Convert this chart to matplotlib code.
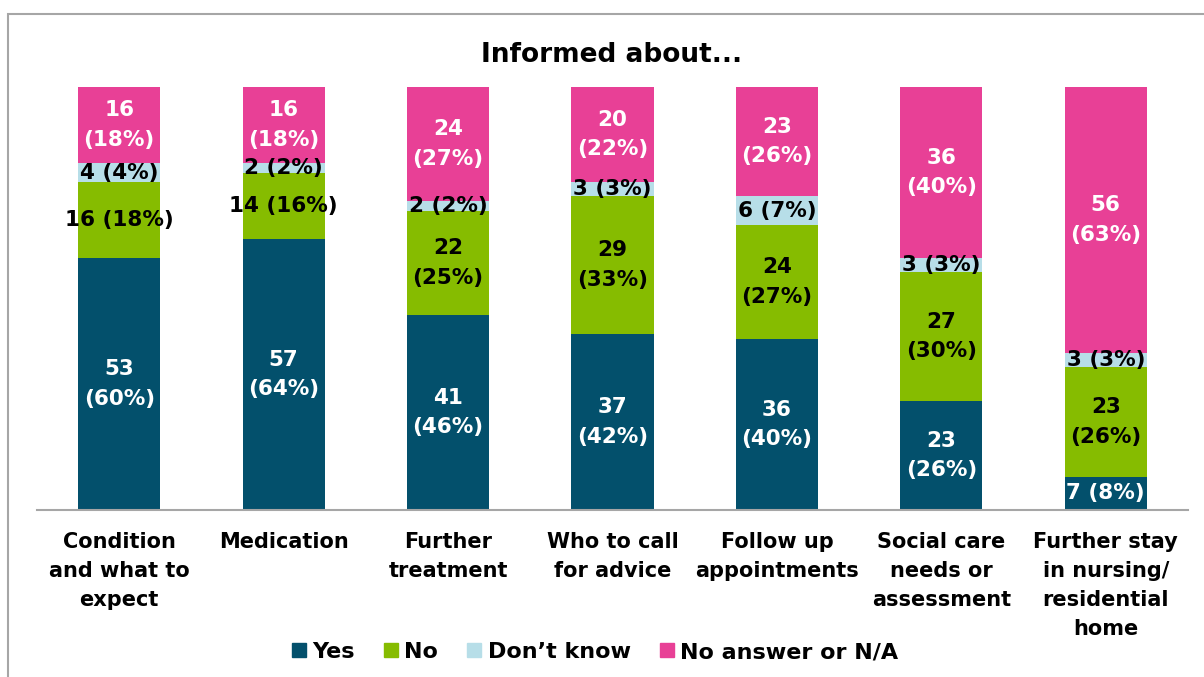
import numpy as np
import matplotlib.pyplot as plt
from matplotlib.patches import Rectangle, Patch

categories = ['Condition\nand what to\nexpect', 'Medication', 'Further\ntreatment',
              'Who to call\nfor advice', 'Follow up\nappointments',
              'Social care\nneeds or\nassessment',
              'Further stay\nin nursing/\nresidential\nhome']
series = ['Yes', 'No', 'Don\u2019t know', 'No answer or N/A']
yes = [53, 57, 41, 37, 36, 23, 7]
no = [16, 14, 22, 29, 24, 27, 23]
dont_know = [4, 2, 2, 3, 6, 3, 3]
no_answer = [16, 16, 24, 20, 23, 36, 56]

# which labels go on one line ("4 (4%)") rather than two
one_line = [
    [False, False, False, False, False, False, True],
    [True, True, False, False, False, False, False],
    [True, True, True, True, True, True, True],
    [False, False, False, False, False, False, False],
]
colors = ['#03506C', '#86BC00', '#B7DEE8', '#E84096']
text_colors = ['white', 'black', 'black', 'white']

plt.rcParams['font.family'] = ['DejaVu Sans']
plt.rcParams['font.weight'] = 'bold'

fig = plt.figure(figsize=(12.04, 6.77), dpi=100)
# outer frame
fig.patches.append(Rectangle((8 / 1204, -0.01), 1.1, 1 - 14 / 677 + 0.01,
                             transform=fig.transFigure, fill=False,
                             edgecolor='#A6A6A6', linewidth=1.5))

ax = fig.add_axes([37 / 1204, 1 - 510 / 677, (1188 - 37) / 1204, (510 - 87) / 677])
x = np.arange(len(categories))
data = [yes, no, dont_know, no_answer]
totals = np.sum(data, axis=0)
bottom = np.zeros(len(categories))
for i, vals in enumerate(data):
    vals = np.array(vals)
    ax.bar(x, vals, 0.5, bottom=bottom, color=colors[i], label=series[i])
    for j, v in enumerate(vals):
        pct = int(round(v / totals[j] * 100))
        sep = ' ' if one_line[i][j] else '\n'
        ax.text(x[j], bottom[j] + v / 2, f'{v}{sep}({pct}%)', ha='center',
                va='center', color=text_colors[i], fontsize=15.5,
                fontweight='bold', linespacing=1.6)
    bottom += vals

ax.set_xlim(-0.5, len(categories) - 0.5)
ax.set_ylim(0, 89)
for s in ['top', 'right', 'left']:
    ax.spines[s].set_visible(False)
ax.spines['bottom'].set_color('#A6A6A6')
ax.spines['bottom'].set_linewidth(1.5)
ax.set_yticks([])
ax.set_xticks(x)
ax.set_xticklabels(categories, fontsize=15, fontweight='bold', va='top',
                   linespacing=1.55)
ax.tick_params(axis='x', length=0, pad=16)

fig.text(612 / 1204, 1 - 55 / 677, 'Informed about...', ha='center', va='center',
         fontsize=19, fontweight='bold')

handles = [Patch(color=c) for c in colors]
fig.legend(handles, series, loc='center', bbox_to_anchor=(595 / 1204, 1 - 652 / 677),
           ncol=4, frameon=False, fontsize=16, handlelength=0.63, handleheight=0.63,
           handletextpad=0.3, columnspacing=1.3)

fig.savefig('out.png', dpi=100)
